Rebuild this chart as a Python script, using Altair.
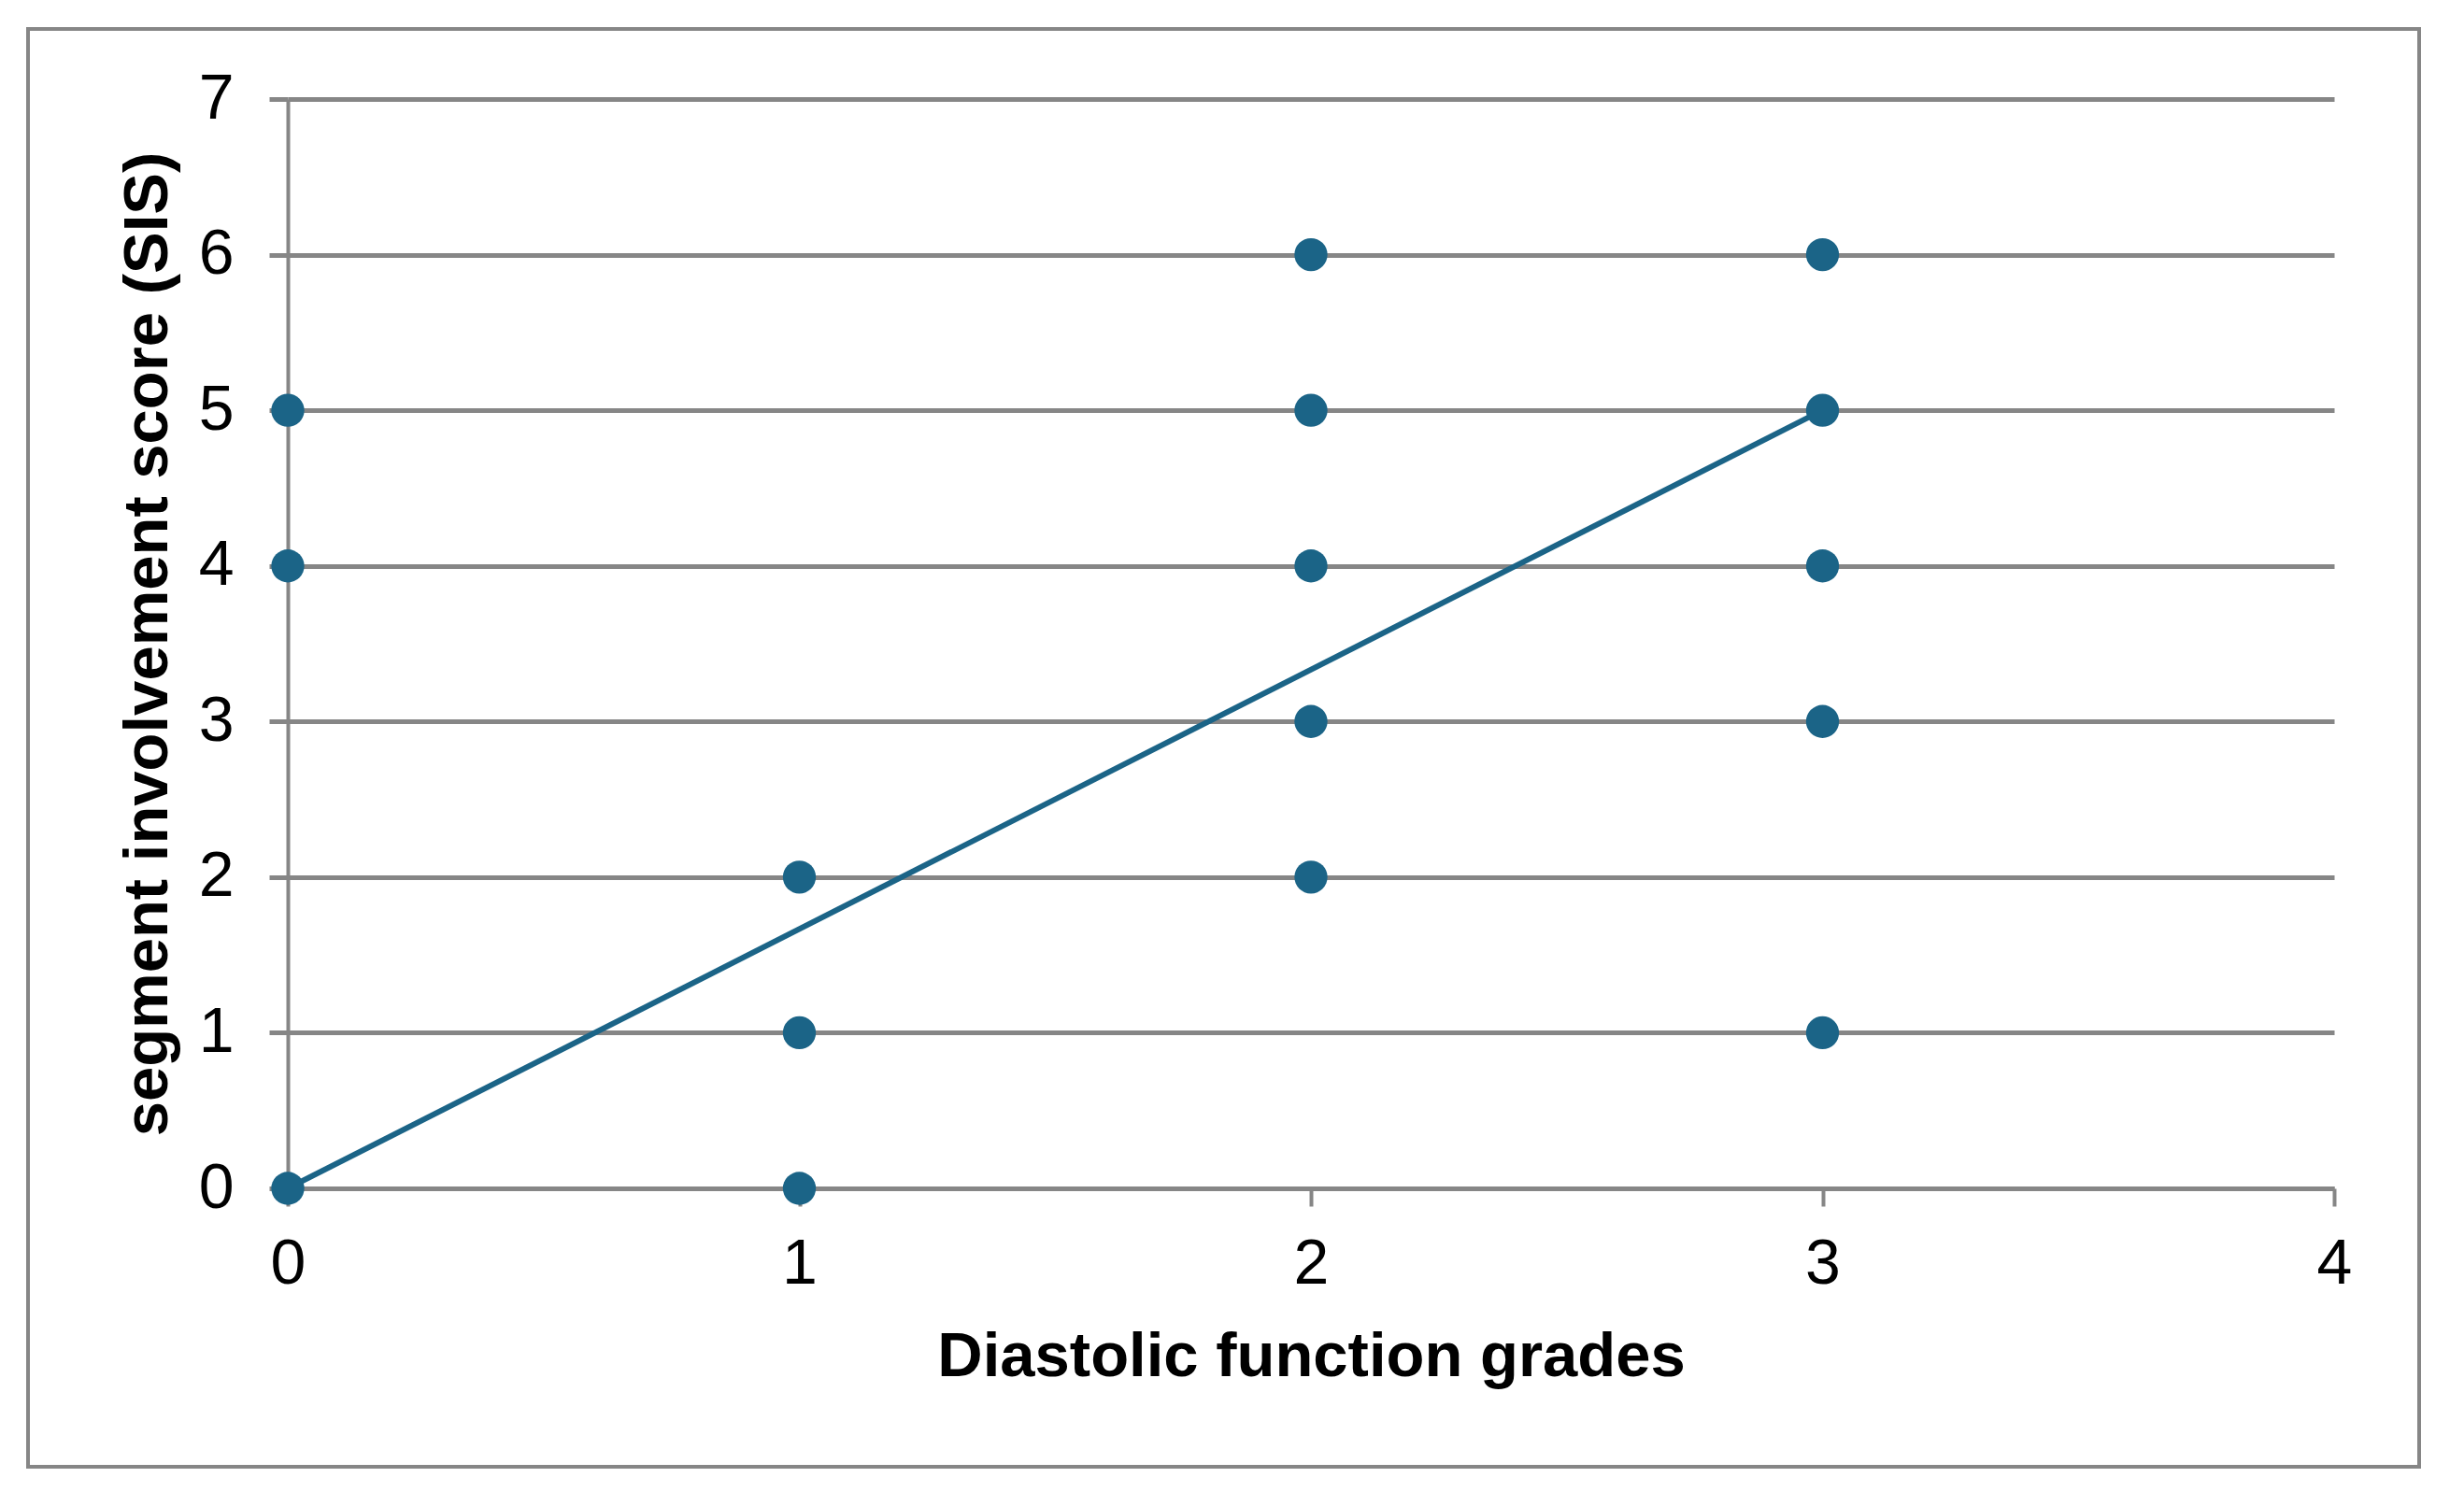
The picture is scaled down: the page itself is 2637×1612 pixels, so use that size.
import altair as alt
import pandas as pd

# Data
grade = [0, 0, 0, 1, 1, 1, 2, 2, 2, 2, 2, 3, 3, 3, 3, 3]
sis = [0, 4, 5, 0, 1, 2, 2, 3, 4, 5, 6, 1, 3, 4, 5, 6]
trend_x = [0, 3]
trend_y = [0, 5]
x_ticks = [0, 1, 2, 3, 4]
y_ticks = [0, 1, 2, 3, 4, 5, 6, 7]

pts = pd.DataFrame({"grade": grade, "sis": sis})
trend = pd.DataFrame({"grade": trend_x, "sis": trend_y})

BLUE = "#1b6487"
GRID = "#868686"
FONT = "Liberation Sans"
W, H = 2190, 1166

xscale = alt.Scale(domain=[0, 4], nice=False, zero=False)
yscale = alt.Scale(domain=[0, 7], nice=False, zero=False)

xaxis = alt.Axis(
    title="Diastolic function grades", values=x_ticks, grid=False, format="d",
    domain=True, domainColor=GRID, domainWidth=5,
    ticks=True, tickColor=GRID, tickWidth=4, tickSize=19,
    labelFont=FONT, labelFontSize=68, labelColor="black", labelPadding=28,
    labelFlush=False,
    titleFont=FONT, titleFontSize=67, titleFontWeight="bold", titleColor="black",
    titleY=200, titleBaseline="alphabetic",
)
yaxis = alt.Axis(
    title="segment involvement score (SIS)", values=y_ticks, grid=True, format="d",
    gridColor=GRID, gridWidth=5,
    domain=True, domainColor=GRID, domainWidth=4,
    ticks=True, tickColor=GRID, tickWidth=5, tickSize=20,
    labelFont=FONT, labelFontSize=68, labelColor="black", labelPadding=38,
    labelFlush=False,
    titleFont=FONT, titleFontSize=67, titleFontWeight="bold", titleColor="black",
    titleX=-130, titleY=H / 2, titleAngle=-90, titleAlign="center",
    titleBaseline="alphabetic",
)

frame = alt.Chart(pd.DataFrame({"k": [0]})).mark_rect(
    fill=None, fillOpacity=0, stroke=GRID, strokeWidth=4
).encode(
    x=alt.value(-278), x2=alt.value(2281), y=alt.value(-75), y2=alt.value(1464)
)

line = alt.Chart(trend).mark_line(color=BLUE, strokeWidth=6).encode(
    x=alt.X("grade:Q", scale=xscale, axis=xaxis),
    y=alt.Y("sis:Q", scale=yscale, axis=yaxis),
)

points = alt.Chart(pts).mark_circle(color=BLUE, opacity=1, size=1250).encode(
    x=alt.X("grade:Q", scale=xscale),
    y=alt.Y("sis:Q", scale=yscale),
)

chart = alt.layer(frame, line, points).properties(
    width=W, height=H,
    autosize=alt.AutoSizeParams(type="none"),
    padding={"left": 300, "top": 98, "right": 120, "bottom": 320},
    background="white",
).configure_view(stroke=None)

chart.save("out.html", embed_options={"renderer": "svg", "actions": False})
